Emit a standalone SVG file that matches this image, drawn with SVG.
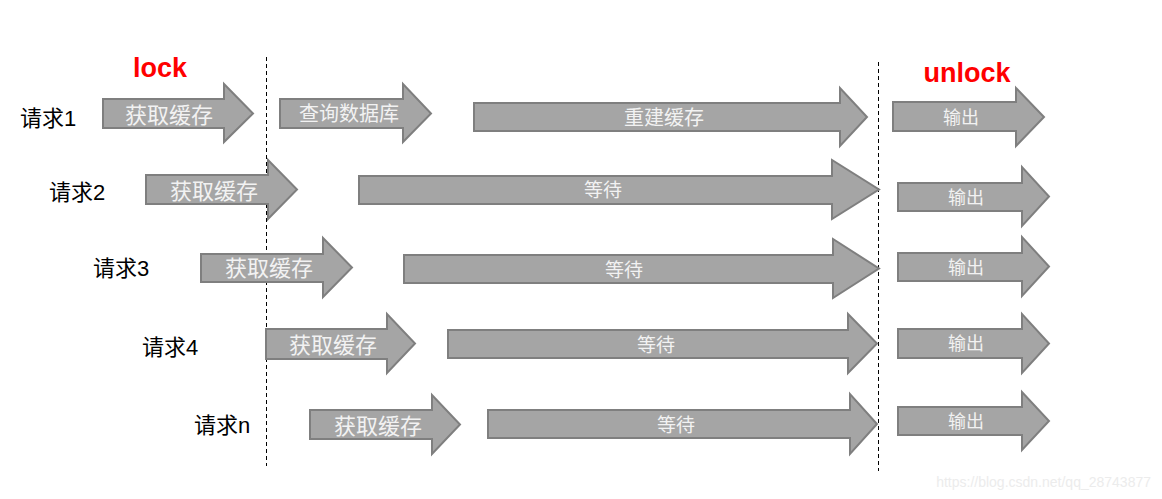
<svg xmlns="http://www.w3.org/2000/svg" width="1162" height="499" viewBox="0 0 1162 499">
<style>
.ar{fill:#a5a5a5;stroke:#7f7f7f;stroke-width:2;stroke-linejoin:miter}
.t{font-family:"Liberation Sans","Noto Sans CJK SC",sans-serif;fill:#f2f2f2;text-anchor:middle;dominant-baseline:central}
.lb{font-family:"Liberation Sans","Noto Sans CJK SC",sans-serif;fill:#000;font-size:22px;dominant-baseline:central}
.red{font-family:"Liberation Sans",Arial,sans-serif;font-weight:bold;fill:#ff0000;font-size:27px;text-anchor:middle}
.dash{stroke:#000;stroke-width:1;stroke-dasharray:4 3;fill:none}
</style>
<rect width="1162" height="499" fill="#ffffff"/>
<g id="connectors">
<line class="dash" x1="266.5" y1="57" x2="266.5" y2="466"/>
<line class="dash" x1="878.5" y1="62" x2="878.5" y2="471"/>
</g>
<g id="labels">
<text class="red" x="160" y="77">lock</text>
<text class="red" x="967" y="82">unlock</text>
<text class="lb" x="20" y="118">请求1</text>
<text class="lb" x="49" y="192">请求2</text>
<text class="lb" x="93" y="268">请求3</text>
<text class="lb" x="142" y="347">请求4</text>
<text class="lb" x="194" y="425">请求n</text>
</g>
<g id="r1-get"><polygon class="ar" points="103,99 224,99 224,84 253,113.5 224,142 224,128 103,128"/><text class="t" x="169" y="115" font-size="22">获取缓存</text></g>
<g id="r1-query"><polygon class="ar" points="280,99 403,99 403,84 431,113.5 403,142 403,128 280,128"/><text class="t" x="349" y="114" font-size="20">查询数据库</text></g>
<g id="r1-rebuild"><polygon class="ar" points="474,103 840,103 840,88 867,117 840,146 840,131 474,131"/><text class="t" x="664" y="118" font-size="20">重建缓存</text></g>
<g id="r1-out"><polygon class="ar" points="893,102 1016,102 1016,88 1044,117 1016,146 1016,131 893,131"/><text class="t" x="961" y="118" font-size="18">输出</text></g>
<g id="r2-get"><polygon class="ar" points="146,175 268,175 268,160 297,189.5 268,219 268,204 146,204"/><text class="t" x="214" y="191" font-size="22">获取缓存</text></g>
<g id="r2-wait"><polygon class="ar" points="359,176 832,176 832,160 879,189.5 832,219 832,204 359,204"/><text class="t" x="603" y="190" font-size="19">等待</text></g>
<g id="r2-out"><polygon class="ar" points="898,183 1022,183 1022,167 1049,196.5 1022,226 1022,211 898,211"/><text class="t" x="966" y="198" font-size="18">输出</text></g>
<g id="r3-get"><polygon class="ar" points="201,254 323,254 323,238 352,267.5 323,297 323,282 201,282"/><text class="t" x="269" y="268" font-size="22">获取缓存</text></g>
<g id="r3-wait"><polygon class="ar" points="404,255 833,255 833,239 879,268.5 833,298 833,283 404,283"/><text class="t" x="624" y="270" font-size="19">等待</text></g>
<g id="r3-out"><polygon class="ar" points="898,253 1022,253 1022,237 1049,266.5 1022,296 1022,281 898,281"/><text class="t" x="966" y="268" font-size="18">输出</text></g>
<g id="r4-get"><polygon class="ar" points="266,329 387,329 387,314 415,343.5 387,373 387,359 266,359"/><text class="t" x="333" y="345" font-size="22">获取缓存</text></g>
<g id="r4-wait"><polygon class="ar" points="448,330 848,330 848,314 877,343.5 848,373 848,358 448,358"/><text class="t" x="656" y="345" font-size="19">等待</text></g>
<g id="r4-out"><polygon class="ar" points="898,329 1022,329 1022,314 1049,343.5 1022,373 1022,358 898,358"/><text class="t" x="966" y="344" font-size="18">输出</text></g>
<g id="r5-get"><polygon class="ar" points="310,410 432,410 432,395 460,424.5 432,454 432,439 310,439"/><text class="t" x="378" y="426" font-size="22">获取缓存</text></g>
<g id="r5-wait"><polygon class="ar" points="488,410 850,410 850,394 877,424 850,454 850,438 488,438"/><text class="t" x="676" y="425" font-size="19">等待</text></g>
<g id="r5-out"><polygon class="ar" points="898,407 1022,407 1022,392 1049,421 1022,450 1022,435 898,435"/><text class="t" x="966" y="422" font-size="18">输出</text></g>
<text x="1151" y="487" font-family="'Liberation Sans',Arial,sans-serif" font-size="14" fill="#ececec" text-anchor="end">https://blog.csdn.net/qq_28743877</text>
</svg>
